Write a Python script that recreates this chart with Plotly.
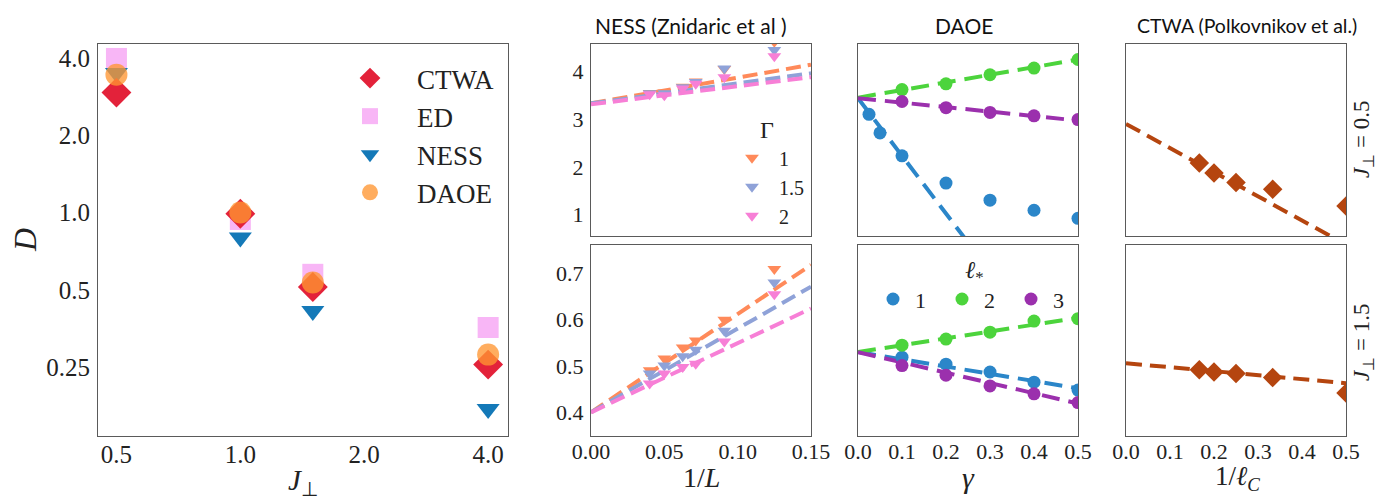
import plotly.graph_objects as go
import math

# ---------------- data ----------------
J_perp = [0.5, 1.0, 1.5, 4.0]
D_ctwa = [2.93, 0.99, 0.513, 0.256]
D_ed = [3.98, 0.94, 0.575, 0.357]
D_ness = [3.49, 0.80, 0.414, 0.172]
D_daoe = [3.44, 1.00, 0.534, 0.280]

inv_L = [1/25, 1/20, 1/16, 1/14, 1/11, 1/8]
gammas_ness = ["1", "1.5", "2"]
ness_top = {"1": [3.55, 3.56, 3.68, 3.79, 4.05, 4.62],
            "1.5": [3.54, 3.54, 3.67, 3.78, 4.06, 4.45],
            "2": [3.52, 3.50, 3.64, 3.74, 3.88, 4.32]}
ness_bot = {"1": [0.491, 0.516, 0.540, 0.555, 0.600, 0.709],
            "1.5": [0.484, 0.501, 0.521, 0.535, 0.576, 0.680],
            "2": [0.462, 0.484, 0.498, 0.505, 0.553, 0.655]}
ness_fit_x = [0.0, 0.15]
ness_fit_top = {"1": [3.33, 4.14], "1.5": [3.33, 3.96], "2": [3.31, 3.88]}
ness_fit_bot = {"1": [0.400, 0.718], "1.5": [0.400, 0.671], "2": [0.400, 0.624]}

ells = ["1", "2", "3"]
daoe_gamma_top = {"1": [0.025, 0.05, 0.1, 0.2, 0.3, 0.4, 0.5],
                  "2": [0.1, 0.2, 0.3, 0.4, 0.5],
                  "3": [0.1, 0.2, 0.3, 0.4, 0.5]}
daoe_top = {"1": [3.10, 2.71, 2.23, 1.66, 1.30, 1.09, 0.92],
            "2": [3.62, 3.74, 3.93, 4.07, 4.25],
            "3": [3.37, 3.24, 3.14, 3.07, 2.99]}
daoe_gamma_bot = [0.1, 0.2, 0.3, 0.4, 0.5]
daoe_bot = {"1": [0.519, 0.504, 0.487, 0.465, 0.448],
            "2": [0.545, 0.558, 0.573, 0.597, 0.602],
            "3": [0.501, 0.480, 0.457, 0.440, 0.421]}
daoe_fit_x = [0.0, 0.5]
daoe_fit_top = {"1": [3.44, -2.61], "2": [3.45, 4.25], "3": [3.44, 2.97]}
daoe_fit_bot = {"1": [0.530, 0.452], "2": [0.530, 0.604], "3": [0.530, 0.419]}

inv_lc = [1/6, 1/5, 1/4, 1/3, 1/2]
ctwa_top = [2.08, 1.87, 1.67, 1.53, 1.18]
ctwa_bot = [0.492, 0.487, 0.484, 0.475, 0.442]
ctwa_fit_x = [0.0, 0.5]
ctwa_fit_top = [2.90, 0.37]
ctwa_fit_bot = [0.506, 0.463]

# ---------------- style ----------------
W, H = 1380, 504
SERIF = "Liberation Serif"
SANS = "Lato"
TXT = "#222222"
ness_col = {"1": "#ff8a5a", "1.5": "#8fa2d8", "2": "#f77fd6"}
daoe_col = {"1": "#2b86c9", "2": "#4cd43c", "3": "#9b30ad"}
ctwa_col = "#b5450f"


def px(x):
    return x / W


def py(y):
    return 1 - y / H


fig = go.Figure()

# main panel
fig.add_trace(go.Scatter(x=J_perp, y=D_ed, mode="markers", name="ED", legendrank=2,
                         marker=dict(symbol="square", size=21, color="#f8b6f6"),
                         xaxis="x", yaxis="y"))
fig.add_trace(go.Scatter(x=J_perp, y=D_ness, mode="markers", name="NESS", legendrank=3,
                         marker=dict(symbol="triangle-down", size=20, color="#1479b8"),
                         xaxis="x", yaxis="y"))
fig.add_trace(go.Scatter(x=J_perp, y=D_ctwa, mode="markers", name="CTWA", legendrank=1,
                         marker=dict(symbol="diamond", size=23, color="#e3223a"),
                         xaxis="x", yaxis="y"))
fig.add_trace(go.Scatter(x=J_perp, y=D_daoe, mode="markers", name="DAOE", legendrank=4,
                         marker=dict(symbol="circle", size=22, color="rgba(255,150,50,0.78)"),
                         xaxis="x", yaxis="y"))

DASH = "15px,7px"
# NESS panels
for g in gammas_ness:
    fig.add_trace(go.Scatter(x=ness_fit_x, y=ness_fit_top[g], mode="lines", showlegend=False,
                             line=dict(color=ness_col[g], width=4, dash=DASH), xaxis="x2", yaxis="y2"))
    fig.add_trace(go.Scatter(x=ness_fit_x, y=ness_fit_bot[g], mode="lines", showlegend=False,
                             line=dict(color=ness_col[g], width=4, dash=DASH), xaxis="x5", yaxis="y5"))
for g in gammas_ness:
    fig.add_trace(go.Scatter(x=inv_L, y=ness_top[g], mode="markers", name=g, legend="legend2",
                             marker=dict(symbol="triangle-down", size=12, color=ness_col[g]),
                             xaxis="x2", yaxis="y2"))
    fig.add_trace(go.Scatter(x=inv_L, y=ness_bot[g], mode="markers", showlegend=False,
                             marker=dict(symbol="triangle-down", size=12, color=ness_col[g]),
                             xaxis="x5", yaxis="y5"))

# DAOE panels
for l in ells:
    fig.add_trace(go.Scatter(x=daoe_fit_x, y=daoe_fit_top[l], mode="lines", showlegend=False,
                             line=dict(color=daoe_col[l], width=4, dash="18px,9px"), xaxis="x3", yaxis="y3"))
    fig.add_trace(go.Scatter(x=daoe_fit_x, y=daoe_fit_bot[l], mode="lines", showlegend=False,
                             line=dict(color=daoe_col[l], width=4, dash="18px,9px"), xaxis="x6", yaxis="y6"))
for l in ells:
    fig.add_trace(go.Scatter(x=daoe_gamma_top[l], y=daoe_top[l], mode="markers", name=l, legend="legend3",
                             marker=dict(symbol="circle", size=13, color=daoe_col[l]),
                             xaxis="x3", yaxis="y3"))
    fig.add_trace(go.Scatter(x=daoe_gamma_bot, y=daoe_bot[l], mode="markers", showlegend=False,
                             marker=dict(symbol="circle", size=13, color=daoe_col[l]),
                             xaxis="x6", yaxis="y6"))

# CTWA panels
fig.add_trace(go.Scatter(x=ctwa_fit_x, y=ctwa_fit_top, mode="lines", showlegend=False,
                         line=dict(color=ctwa_col, width=4, dash="16px,8px"), xaxis="x4", yaxis="y4"))
fig.add_trace(go.Scatter(x=ctwa_fit_x, y=ctwa_fit_bot, mode="lines", showlegend=False,
                         line=dict(color=ctwa_col, width=4, dash="16px,8px"), xaxis="x7", yaxis="y7"))
fig.add_trace(go.Scatter(x=inv_lc, y=ctwa_top, mode="markers", showlegend=False,
                         marker=dict(symbol="diamond", size=15, color=ctwa_col), xaxis="x4", yaxis="y4"))
fig.add_trace(go.Scatter(x=inv_lc, y=ctwa_bot, mode="markers", showlegend=False,
                         marker=dict(symbol="diamond", size=15, color=ctwa_col), xaxis="x7", yaxis="y7"))

# ---------------- axes ----------------
base = dict(showline=True, mirror=True, linecolor="#5a5a5a", linewidth=1, ticks="",
            showgrid=False, zeroline=False, fixedrange=True, automargin=False)
sub_font = dict(family=SERIF, size=22, color=TXT)

col_x = {"main": (98, 508), "ness": (591, 811), "daoe": (858, 1078), "ctwa": (1126, 1346)}
row_top = (44, 236)
row_bot = (245, 436)


def dom_x(c):
    a, b = col_x[c]
    return [px(a), px(b)]


def dom_y(r):
    a, b = r
    return [py(b), py(a)]


layout = dict(
    template="none",
    width=W, height=H, autosize=False,
    margin=dict(l=0, r=0, t=0, b=0, pad=0),
    paper_bgcolor="white", plot_bgcolor="white",
    xaxis=dict(base, type="log", domain=dom_x("main"), anchor="y",
               range=[math.log10(0.451), math.log10(4.47)],
               tickvals=[0.5, 1, 2, 4], ticktext=["0.5", "1.0", "2.0", "4.0"],
               tickfont=dict(family=SERIF, size=25, color=TXT), ticklabelstandoff=-4),
    yaxis=dict(base, type="log", domain=[py(436), py(44)], anchor="x",
               range=[math.log10(0.135), math.log10(4.53)],
               tickvals=[0.25, 0.5, 1, 2, 4], ticktext=["0.25", "0.5", "1.0", "2.0", "4.0"],
               tickfont=dict(family=SERIF, size=25, color=TXT), ticklabelstandoff=2),
)

ness_xr = [0, 0.15]
g_xr = [0, 0.5]
top_yr = [0.55, 4.575]
bot_yr = [0.349, 0.761]

layout["xaxis2"] = dict(base, domain=dom_x("ness"), anchor="y2", range=ness_xr, showticklabels=False)
layout["yaxis2"] = dict(base, domain=dom_y(row_top), anchor="x2", range=top_yr,
                        tickvals=[1, 2, 3, 4], tickfont=sub_font, ticklabelstandoff=2)
layout["xaxis3"] = dict(base, domain=dom_x("daoe"), anchor="y3", range=g_xr, showticklabels=False)
layout["yaxis3"] = dict(base, domain=dom_y(row_top), anchor="x3", range=top_yr, showticklabels=False)
layout["xaxis4"] = dict(base, domain=dom_x("ctwa"), anchor="y4", range=g_xr, showticklabels=False)
layout["yaxis4"] = dict(base, domain=dom_y(row_top), anchor="x4", range=top_yr, showticklabels=False)

layout["xaxis5"] = dict(base, domain=dom_x("ness"), anchor="y5", range=ness_xr,
                        tickvals=[0, 0.05, 0.10, 0.15], ticktext=["0.00", "0.05", "0.10", "0.15"],
                        tickfont=sub_font, ticklabelstandoff=-4)
layout["yaxis5"] = dict(base, domain=dom_y(row_bot), anchor="x5", range=bot_yr,
                        tickvals=[0.4, 0.5, 0.6, 0.7], ticktext=["0.4", "0.5", "0.6", "0.7"],
                        tickfont=sub_font, ticklabelstandoff=2)
g_ticks = [0, 0.1, 0.2, 0.3, 0.4, 0.5]
g_text = ["0.0", "0.1", "0.2", "0.3", "0.4", "0.5"]
layout["xaxis6"] = dict(base, domain=dom_x("daoe"), anchor="y6", range=g_xr,
                        tickvals=g_ticks, ticktext=g_text, tickfont=sub_font, ticklabelstandoff=-4)
layout["yaxis6"] = dict(base, domain=dom_y(row_bot), anchor="x6", range=bot_yr, showticklabels=False)
layout["xaxis7"] = dict(base, domain=dom_x("ctwa"), anchor="y7", range=g_xr,
                        tickvals=g_ticks, ticktext=g_text, tickfont=sub_font, ticklabelstandoff=-4)
layout["yaxis7"] = dict(base, domain=dom_y(row_bot), anchor="x7", range=bot_yr, showticklabels=False)

# legends
layout["legend"] = dict(x=px(323), y=py(54), xanchor="left", yanchor="top",
                        bgcolor="rgba(0,0,0,0)", borderwidth=0, itemwidth=84,
                        font=dict(family=SERIF, size=27, color=TXT), tracegroupgap=0)
layout["legend2"] = dict(x=px(725), y=py(107), xanchor="left", yanchor="top",
                         bgcolor="rgba(0,0,0,0)", borderwidth=0, itemwidth=44,
                         title=dict(text="Γ", side="top center", font=dict(family=SERIF, size=24, color=TXT)),
                         font=dict(family=SERIF, size=20, color=TXT))
layout["legend3"] = dict(x=px(871), y=py(247), xanchor="left", yanchor="top", orientation="h",
                         bgcolor="rgba(0,0,0,0)", borderwidth=0, itemwidth=34, entrywidth=20,
                         title=dict(text="<i>ℓ</i><sub>*</sub>", side="top center",
                                    font=dict(family=SERIF, size=24, color=TXT)),
                         font=dict(family=SERIF, size=22, color=TXT))

fig.update_layout(**layout)

# ---------------- text ----------------
ann = []
ann.append(dict(text="<i>D</i>", x=px(25), y=py(240), textangle=-90,
                font=dict(family=SERIF, size=32, color=TXT)))
ann.append(dict(text="<i>J</i><sub>⊥</sub>", x=px(303), y=py(482),
                font=dict(family=SERIF, size=29, color=TXT)))
ann.append(dict(text="1/<i>L</i>", x=px(701), y=py(477), font=dict(family=SERIF, size=28, color=TXT)))
ann.append(dict(text="<i>γ</i>", x=px(968), y=py(477), font=dict(family=SERIF, size=30, color=TXT)))
ann.append(dict(text="1/<i>ℓ</i><sub><i>C</i></sub>", x=px(1237), y=py(478),
                font=dict(family=SERIF, size=27, color=TXT)))
ann.append(dict(text="NESS (Znidaric et al )", x=px(691), y=py(25), font=dict(family=SANS, size=21, color="#111")))
ann.append(dict(text="DAOE", x=px(964), y=py(25), font=dict(family=SANS, size=21, color="#111")))
ann.append(dict(text="CTWA (Polkovnikov et al.)", x=px(1247), y=py(25), font=dict(family=SANS, size=19.5, color="#111")))
ann.append(dict(text="<i>J</i><sub>⊥</sub> = 0.5", x=px(1363), y=py(140), textangle=-90,
                font=dict(family=SERIF, size=23, color=TXT)))
ann.append(dict(text="<i>J</i><sub>⊥</sub> = 1.5", x=px(1363), y=py(343), textangle=-90,
                font=dict(family=SERIF, size=23, color=TXT)))
for a in ann:
    a.update(xref="paper", yref="paper", showarrow=False, xanchor="center", yanchor="middle")
fig.update_layout(annotations=ann)

fig.write_html("out.html")
